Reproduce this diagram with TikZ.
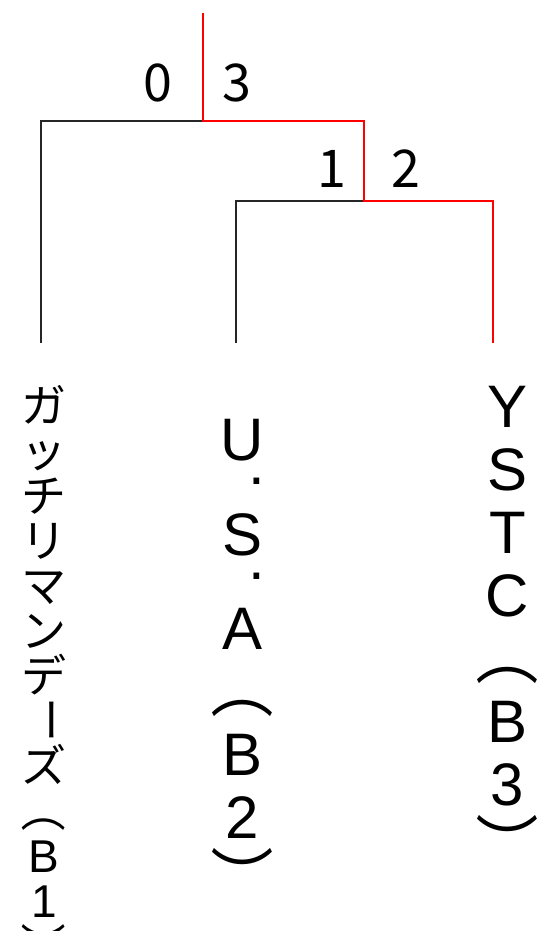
\documentclass[tikz,border=0pt]{standalone}
\usepackage{fontspec}
\usepackage{graphicx}
\setmainfont{Liberation Sans}
\newfontfamily\kanafont{Noto Sans CJK JP}
\usetikzlibrary{positioning}
% full-width glyph turned for vertical writing, about the middle of its em box
\newcommand{\tate}[1]{\rotatebox[x=0.5em,y=0.38em]{-90}{\kanafont #1}}
\newcommand{\gmlat}[1]{{\rmfamily\fontsize{46}{46}\selectfont #1}}
\newcommand{\bigtate}[1]{{\kanafont\fontsize{63}{63}\selectfont\tate{#1}}}

\begin{document}
\begin{tikzpicture}[
  x=1pt,y=-1pt,
  every node/.style={inner sep=0pt,anchor=base},
  lose/.style={draw=black!85,line width=1.1pt},
  win/.style={draw=red,line width=1.8pt},
  score/.style={font=\kanafont\fontsize{52}{52}\selectfont},
  kana/.style={font=\kanafont\fontsize{45}{45}\selectfont},
  team/.style={font=\fontsize{60}{63}\selectfont}
]
\useasboundingbox (0,0) rectangle (537,931);
% bracket points
\coordinate (top) at (203,13);
\coordinate (m0) at (203,121);
\coordinate (m1) at (364,201);
\coordinate (leafgm) at (41,343);
\coordinate (leafusa) at (236,343);
\coordinate (leafystc) at (493,343);
\draw[lose] (leafgm) |- (m0);
\draw[lose] (leafusa) |- (m1);
\draw[win] (top) -- (m0) -| (m1) -| (leafystc);
% scores
\node[score] (s0) at (158,102) {0};
\node[score] (s3) at (237,102) {3};
\node[score] (s1) at (332,187) {1};
\node[score] (s2) at (406,187) {2};
% team names, one glyph per line
\foreach \ch/\yy [count=\i] in {ガ/422,ッ/467,チ/512,リ/557,マ/602,ン/647,デ/692,
    \tate{ー}/737,ズ/782,\tate{（}/827,\gmlat{B}/872,\gmlat{1}/917,\tate{）}/962}
  \node[kana] (gm\i) at (44,\yy) {\ch};
\foreach \ch/\yy [count=\i] in {U/460,S/555,A/649,\bigtate{（}/712,B/775,2/838,\bigtate{）}/901}
  \node[team] (usa\i) at (242.5,\yy) {\ch};
\foreach \yy [count=\i] in {484,579}
  \node[team] (usadot\i) at (256.5,\yy) {.};
\foreach \ch/\yy [count=\i] in {Y/427,S/490,T/553,C/616,\bigtate{（}/679,B/742,3/805,\bigtate{）}/868}
  \node[team] (ystc\i) at (507.5,\yy) {\ch};
\end{tikzpicture}
\end{document}
